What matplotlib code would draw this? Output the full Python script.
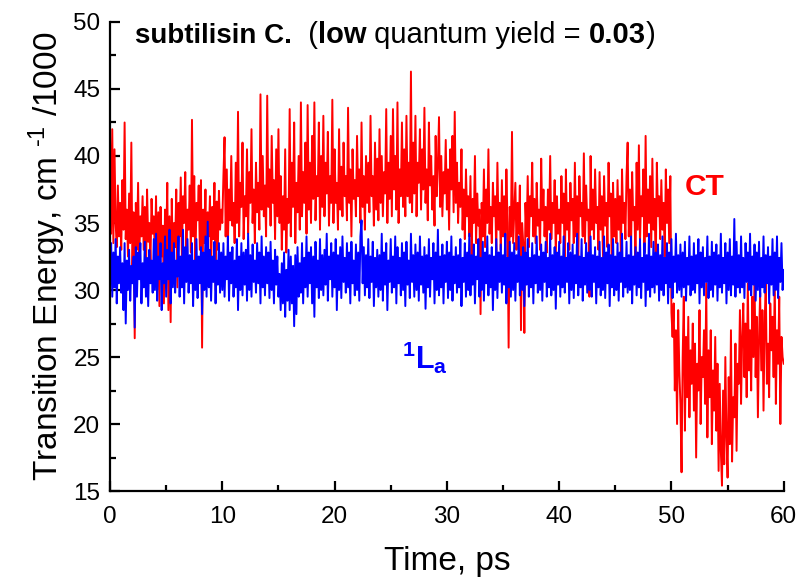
import matplotlib

matplotlib.use("Agg")
import matplotlib.pyplot as plt
import numpy as np
from matplotlib.ticker import MultipleLocator

plt.rcParams["font.family"] = ["Liberation Sans", "DejaVu Sans"]
plt.rcParams["mathtext.fontset"] = "custom"
plt.rcParams["mathtext.rm"] = "Liberation Sans"
plt.rcParams["mathtext.it"] = "Liberation Sans:italic"
plt.rcParams["mathtext.bf"] = "Liberation Sans:bold"

TIME_STEP = 0.1  # ps between samples

# CT transition energy (cm^-1 / 1000), 10 samples per ps
CT_ENERGY = [
    41.5, 34.2, 42.0, 33.5, 40.5, 35.0, 33.2, 37.8, 34.0, 36.5,
    33.0, 38.2, 34.5, 42.5, 33.8, 36.0, 32.5, 37.2, 33.5, 41.0,
    31.5, 35.8, 26.4, 36.5, 33.0, 38.0, 32.2, 35.5, 34.0, 37.0,
    33.0, 36.2, 31.0, 37.5, 33.6, 35.0, 32.0, 36.8, 34.2, 35.5,
    32.5, 37.0, 30.0, 35.8, 28.8, 36.2, 32.5, 34.8, 29.0, 36.0,
    33.0, 38.0, 28.5, 35.5, 27.6, 36.8, 31.5, 35.0, 33.2, 37.5,
    30.2, 36.5, 34.0, 38.4, 32.5, 37.0, 35.0, 38.8, 33.0, 36.0,
    34.5, 37.8, 32.8, 42.7, 34.0, 38.5, 32.0, 36.5, 35.2, 37.8,
    33.0, 38.2, 25.7, 36.0, 33.5, 37.5, 30.5, 35.8, 34.0, 37.0,
    31.5, 36.2, 33.8, 38.0, 30.0, 36.6, 33.0, 37.4, 34.5, 36.0,
    35.0, 38.5, 41.4, 34.0, 39.0, 33.5, 37.5, 35.2, 40.0, 34.8,
    36.5, 33.5, 39.5, 35.0, 43.3, 34.0, 38.0, 36.2, 41.0, 33.8,
    37.0, 35.5, 40.5, 34.2, 38.8, 36.5, 42.0, 35.0, 37.5, 33.5,
    39.5, 35.8, 38.0, 34.5, 44.6, 36.0, 40.0, 35.5, 37.8, 34.0,
    44.5, 36.2, 39.0, 34.8, 41.5, 36.5, 38.2, 33.8, 40.5, 35.5,
    42.0, 35.0, 38.5, 33.0, 37.0, 34.5, 40.5, 32.8, 36.8, 35.0,
    43.5, 34.0, 39.5, 36.2, 42.5, 33.5, 38.0, 35.8, 40.0, 34.5,
    44.0, 35.5, 38.8, 36.5, 41.0, 34.2, 43.8, 36.0, 39.5, 35.0,
    41.5, 36.8, 44.0, 35.2, 38.5, 37.0, 42.5, 34.5, 40.0, 36.2,
    43.0, 35.5, 39.5, 37.2, 41.8, 34.8, 38.5, 36.5, 44.2, 35.0,
    40.5, 36.5, 38.0, 34.5, 42.0, 36.0, 39.2, 35.5, 41.0, 37.0,
    38.5, 35.2, 43.6, 36.5, 39.0, 34.0, 40.5, 36.8, 38.2, 35.5,
    41.5, 37.0, 39.0, 35.0, 42.5, 36.2, 38.5, 34.5, 40.0, 36.5,
    39.5, 35.8, 43.0, 37.0, 38.5, 34.8, 41.0, 36.0, 39.8, 35.2,
    42.0, 36.5, 40.0, 35.5, 38.8, 37.2, 43.5, 35.0, 39.5, 36.8,
    41.5, 35.5, 43.5, 37.5, 40.0, 36.0, 44.0, 35.0, 39.0, 37.0,
    42.5, 36.2, 40.5, 35.5, 43.0, 37.0, 39.5, 36.5, 46.3, 35.8,
    41.0, 37.2, 43.0, 35.5, 39.5, 38.0, 42.0, 36.0, 40.5, 37.5,
    43.6, 36.5, 39.0, 35.2, 42.5, 37.8, 40.0, 36.0, 38.5, 34.8,
    41.5, 37.0, 39.5, 42.9, 36.2, 40.0, 35.5, 38.8, 37.2, 41.2,
    36.0, 39.0, 34.5, 40.5, 37.5, 41.5, 35.8, 43.3, 36.5, 39.5,
    35.0, 38.0, 36.2, 40.5, 34.5, 37.5, 33.8, 39.0, 35.5, 37.0,
    34.0, 38.5, 32.5, 36.8, 35.0, 40.0, 33.5, 37.2, 34.8, 36.0,
    28.2, 36.5, 34.0, 39.0, 33.2, 37.5, 35.0, 40.5, 34.2, 36.2,
    33.5, 38.0, 35.5, 37.0, 32.8, 39.5, 34.5, 36.5, 33.0, 38.2,
    34.0, 37.0, 32.5, 39.0, 35.0, 25.7, 36.2, 34.0, 41.8, 33.5,
    35.8, 38.0, 33.0, 36.5, 34.2, 37.8, 27.0, 35.0, 33.5, 26.8,
    36.5, 34.0, 38.5, 33.2, 37.0, 35.5, 39.5, 34.0, 36.8, 33.5,
    38.0, 34.8, 36.0, 33.0, 39.8, 35.2, 37.5, 34.0, 36.2, 32.8,
    37.5, 34.5, 40.0, 33.8, 36.5, 35.0, 38.2, 32.5, 37.0, 34.2,
    36.0, 33.5, 38.5, 35.0, 37.2, 31.0, 39.0, 34.5, 36.5, 33.0,
    38.0, 35.2, 36.8, 33.5, 39.5, 34.0, 37.0, 32.0, 38.5, 35.5,
    36.5, 34.0, 40.2, 33.5, 37.8, 35.2, 36.0, 29.5, 40.0, 34.5,
    37.5, 33.8, 39.0, 35.0, 36.2, 33.0, 38.8, 34.5, 37.0, 32.5,
    38.5, 34.8, 36.5, 33.2, 39.5, 35.5, 37.2, 30.5, 38.0, 34.0,
    36.8, 33.5, 38.2, 34.5, 37.0, 32.5, 39.0, 35.0, 36.5, 33.8,
    38.5, 41.0, 34.0, 37.5, 33.0, 38.8, 35.2, 36.2, 32.0, 39.5,
    34.5, 40.8, 33.5, 37.0, 35.5, 39.0, 32.8, 41.5, 34.0, 37.5,
    35.0, 38.5, 33.2, 39.8, 34.5, 36.8, 31.5, 39.5, 35.5, 37.0,
    33.8, 38.2, 34.5, 36.5, 32.5, 39.0, 35.0, 37.5, 33.5, 38.5,
    28.3, 26.5, 29.0, 22.5, 27.0, 20.0, 28.5, 24.0, 21.5, 16.4,
    25.0, 29.5, 19.5, 26.5, 22.0, 28.0, 20.5, 25.5, 23.0, 27.5,
    21.0, 26.0, 17.5, 24.5, 22.5, 28.5, 20.0, 25.0, 23.5, 27.0,
    21.5, 30.5, 19.0, 25.5, 22.0, 27.0, 18.5, 24.0, 21.0, 26.5,
    19.5, 24.5, 16.5, 23.0, 18.0, 15.4, 22.5, 17.0, 25.0, 19.0,
    16.0, 23.5, 18.5, 27.0, 17.2, 22.0, 20.5, 26.0, 18.0, 24.5,
    23.0, 28.5, 21.5, 26.5, 29.0, 23.5, 27.5, 22.0, 30.5, 24.0,
    27.0, 22.5, 29.5, 25.0, 31.0, 23.5, 28.0, 20.5, 26.5, 29.8,
    24.0, 28.5, 21.0, 27.5, 30.5, 23.0, 26.0, 22.0, 29.0, 25.5,
    28.0, 23.5, 30.8, 21.5, 27.0, 24.5, 29.5, 20.0, 26.5, 25.0,
    24.5,
]

# 1La transition energy (cm^-1 / 1000), same sampling
LA_ENERGY = [
    31.0, 33.5, 29.5, 32.8, 30.2, 33.8, 29.0, 32.5, 30.5, 33.2,
    29.8, 32.0, 28.5, 33.5, 27.5, 32.2, 30.0, 33.0, 29.2, 31.8,
    30.5, 32.5, 27.2, 33.2, 29.5, 32.8, 30.8, 33.5, 29.0, 32.0,
    30.2, 33.6, 29.5, 32.4, 28.8, 33.0, 30.5, 32.2, 29.8, 33.8,
    30.0, 34.2, 29.2, 32.5, 30.8, 33.5, 28.5, 32.0, 30.5, 34.0,
    29.5, 33.0, 30.8, 34.5, 29.0, 32.8, 30.2, 33.5, 29.8, 32.2,
    31.0, 34.0, 29.5, 32.5, 30.2, 34.5, 29.0, 33.2, 30.6, 33.8,
    29.8, 32.6, 30.5, 33.5, 28.8, 32.2, 30.0, 33.8, 29.4, 32.5,
    30.5, 33.2, 28.2, 32.8, 30.0, 34.0, 29.5, 35.1, 30.2, 33.0,
    29.2, 32.5, 30.6, 33.6, 29.0, 32.2, 30.4, 33.5, 29.8, 32.8,
    30.0, 33.5, 29.5, 32.5, 30.8, 34.0, 29.2, 32.8, 30.5, 33.2,
    29.5, 32.2, 30.2, 33.8, 28.5, 32.5, 30.0, 33.5, 29.6, 32.8,
    30.4, 33.0, 29.2, 34.2, 30.0, 32.6, 29.5, 33.4, 30.6, 32.2,
    29.8, 33.5, 30.5, 32.8, 29.0, 34.0, 30.2, 32.5, 29.6, 33.2,
    30.5, 32.8, 29.4, 33.6, 30.0, 32.2, 29.0, 33.0, 30.4, 32.5,
    29.5, 31.2, 28.5, 32.0, 29.0, 32.8, 28.0, 31.5, 29.2, 33.0,
    28.5, 32.5, 29.0, 31.8, 27.3, 32.6, 28.2, 33.2, 29.5, 32.0,
    29.8, 33.5, 29.0, 32.4, 30.2, 34.0, 29.5, 32.8, 30.5, 33.2,
    29.0, 32.5, 28.0, 33.6, 30.2, 32.2, 29.4, 33.8, 30.0, 32.6,
    29.6, 33.0, 30.4, 34.2, 29.2, 32.5, 30.8, 33.5, 29.5, 32.8,
    30.2, 33.8, 28.5, 32.6, 30.0, 33.2, 29.4, 34.0, 30.6, 32.4,
    29.8, 33.5, 30.2, 32.8, 29.0, 33.6, 30.5, 32.2, 29.6, 33.4,
    30.0, 32.8, 29.2, 34.0, 35.2, 30.5, 33.2, 29.6, 32.6, 30.2,
    33.8, 29.4, 32.5, 30.6, 33.6, 28.8, 32.4, 30.2, 33.0, 29.5,
    32.6, 30.0, 34.2, 29.2, 32.8, 30.4, 33.5, 28.5, 32.2, 30.6,
    33.8, 29.8, 32.5, 30.2, 34.0, 29.0, 33.2, 30.5, 32.4, 29.6,
    33.5, 30.0, 32.8, 28.8, 33.6, 30.4, 32.2, 29.4, 34.2, 30.6,
    32.6, 29.5, 33.4, 30.0, 32.8, 29.2, 34.0, 30.4, 32.5, 29.8,
    33.2, 28.6, 32.6, 30.2, 33.8, 29.5, 32.4, 30.8, 33.5, 29.0,
    32.8, 30.0, 34.5, 29.6, 32.5, 30.2, 33.4, 29.0, 32.6, 30.6,
    33.6, 29.4, 32.8, 30.0, 34.0, 29.2, 32.5, 30.5, 33.2, 29.8,
    32.6, 30.2, 33.8, 28.8, 32.4, 30.6, 33.5, 29.5, 32.8, 30.0,
    34.2, 29.6, 32.6, 30.4, 33.4, 29.0, 32.5, 30.8, 33.8, 29.5,
    32.4, 30.0, 33.6, 29.2, 32.8, 30.5, 34.0, 29.6, 32.6, 30.2,
    33.2, 28.5, 32.5, 30.0, 33.8, 29.4, 32.8, 30.6, 33.4, 29.8,
    32.6, 30.4, 34.2, 29.0, 32.4, 30.2, 33.6, 29.5, 32.8, 30.0,
    33.5, 29.2, 32.6, 30.6, 34.0, 29.6, 32.5, 30.0, 33.2, 28.8,
    32.8, 30.4, 33.8, 29.5, 32.4, 30.2, 33.5, 29.0, 32.6, 30.5,
    34.0, 29.8, 32.5, 30.0, 33.4, 29.2, 32.8, 30.6, 33.6, 29.5,
    32.4, 30.2, 34.2, 29.6, 32.6, 30.0, 33.2, 28.6, 32.8, 30.4,
    33.6, 29.5, 32.5, 30.2, 34.0, 29.8, 32.4, 30.6, 33.5, 29.0,
    32.8, 30.0, 33.4, 29.4, 32.6, 30.5, 34.2, 29.6, 32.5, 30.2,
    33.8, 29.2, 32.4, 30.4, 33.5, 29.8, 32.8, 30.0, 34.0, 29.5,
    32.6, 30.6, 33.2, 29.0, 32.5, 30.2, 33.6, 29.6, 32.4, 30.0,
    34.0, 29.4, 32.8, 30.5, 33.4, 28.8, 32.6, 30.2, 33.8, 29.6,
    32.5, 30.0, 33.5, 29.2, 32.8, 30.6, 34.2, 29.5, 32.4, 30.2,
    33.6, 29.8, 32.6, 30.0, 34.0, 29.0, 32.5, 30.4, 33.2, 29.6,
    32.8, 30.2, 33.8, 29.4, 32.4, 30.6, 33.5, 28.8, 32.6, 30.0,
    34.2, 29.5, 32.5, 30.2, 33.6, 29.8, 32.8, 30.4, 33.4, 29.2,
    32.6, 30.0, 34.0, 29.6, 32.4, 30.5, 33.5, 29.0, 32.8, 30.2,
    33.8, 29.4, 32.5, 30.6, 34.2, 29.8, 32.6, 30.0, 33.4, 29.5,
    32.8, 30.2, 33.6, 29.2, 32.4, 30.4, 34.0, 29.6, 32.5, 30.0,
    33.5, 29.8, 32.6, 30.5, 33.8, 29.0, 32.8, 30.2, 33.2, 29.6,
    32.4, 30.6, 34.0, 29.4, 32.5, 30.0, 33.6, 29.5, 32.8, 30.4,
    33.4, 29.2, 32.6, 30.2, 34.2, 29.8, 32.4, 30.5, 33.5, 29.0,
    32.8, 30.0, 33.8, 29.6, 32.5, 30.4, 35.3, 29.5, 33.6, 30.2,
    32.6, 29.8, 34.0, 30.2, 32.4, 29.4, 33.5, 30.6, 32.8, 30.0,
    34.2, 29.6, 32.5, 30.4, 33.4, 29.2, 32.8, 30.0, 33.6, 29.5,
    32.4, 30.2, 34.0, 29.8, 32.6, 30.5, 33.2, 29.0, 32.5, 30.4,
    33.8, 29.6, 32.8, 30.0, 34.0, 29.4, 32.4, 30.6, 33.5, 30.0,
    31.5,
]

TITLE_PARTS = [
    ("subtilisin C.", "bold", 20),
    ("  (", "normal", 21),
    ("low", "bold", 21),
    (" quantum yield = ", "normal", 21),
    ("0.03", "bold", 21),
    (")", "normal", 21),
]

ct = np.asarray(CT_ENERGY)
la = np.asarray(LA_ENERGY)
t_ct = np.arange(len(ct)) * TIME_STEP
t_la = np.arange(len(la)) * TIME_STEP

fig = plt.figure(figsize=(8.03, 5.80), dpi=100)
ax = fig.add_axes([0.137, 0.1534, 0.839, 0.8087])

ax.plot(t_ct, ct, color="#FF0000", lw=1.4)
ax.plot(t_la, la, color="#0000FF", lw=1.4)

ax.set_xlim(0, 60)
ax.set_ylim(15, 50)
ax.xaxis.set_major_locator(MultipleLocator(10))
ax.xaxis.set_minor_locator(MultipleLocator(5))
ax.yaxis.set_major_locator(MultipleLocator(5))
ax.yaxis.set_minor_locator(MultipleLocator(2.5))

for side in ["top", "right"]:
    ax.spines[side].set_visible(False)
for side in ["left", "bottom"]:
    ax.spines[side].set_linewidth(1.6)

ax.tick_params(which="both", direction="in", width=1.6, labelsize=17.5)
ax.tick_params(which="major", length=7)
ax.tick_params(which="minor", length=4)
ax.tick_params(axis="x", pad=11)
ax.tick_params(axis="y", pad=7)

ax.set_xlabel("Time, ps", fontsize=24, labelpad=13)
ax.set_ylabel(r"Transition Energy, cm $^{\text{-1}}$ /1000", fontsize=24, labelpad=4)

# title inside the axes, pieces chained one after another
prev = ax.text(0.037, 0.955, TITLE_PARTS[0][0], transform=ax.transAxes,
               fontsize=TITLE_PARTS[0][2], fontweight=TITLE_PARTS[0][1],
               va="baseline", ha="left")
for text, weight, size in TITLE_PARTS[1:]:
    prev = ax.annotate(text, xy=(1, 0), xycoords=prev, xytext=(0, 0),
                       textcoords="offset points", fontsize=size,
                       fontweight=weight, va="bottom", ha="left")

ax.text(51.2, 37.1, "CT", color="#FF0000", fontsize=21.5, fontweight="bold",
        va="baseline", ha="left")
ax.text(26.0, 24.1, r"$^{\mathbf{1}}\mathbf{L}_{\mathbf{a}}$", color="#0000FF",
        fontsize=22, va="baseline", ha="left")

fig.savefig("out.png", dpi=100)
